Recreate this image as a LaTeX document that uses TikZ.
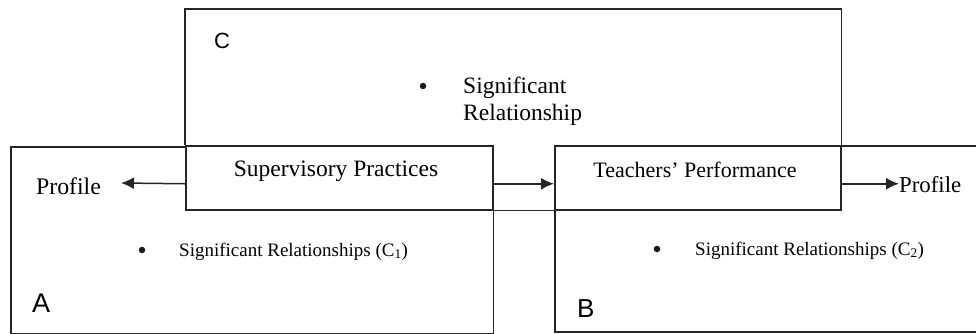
\documentclass[tikz,border=0pt]{standalone}
\usepackage{fontspec}
\setmainfont{Liberation Serif}
\newfontfamily\labelfont{Liberation Sans}
\usetikzlibrary{arrows.meta}
\begin{document}
\begin{tikzpicture}[x=1pt,y=-1pt,
  line/.style={line width=1.5pt, draw=black!85},
  frame/.style={line, rectangle, inner sep=0pt, anchor=north west},
  arr/.style={line, -{Latex[length=13pt,width=12pt]}},
  txt/.style={inner sep=0pt, anchor=base, font=\fontsize{23.5}{27}\selectfont},
  small/.style={inner sep=0pt, anchor=base west, font=\fontsize{19}{22}\selectfont},
  lab/.style={inner sep=0pt, anchor=base west},
  dot/.style={circle, fill=black!90, inner sep=0pt, minimum size=6.5pt}]
\useasboundingbox (0,0) rectangle (976,333);

% frames
\node[frame, draw=none, minimum width=655pt, minimum height=136pt] (C) at (185,9) {};
\node[frame, draw=none, minimum width=481pt, minimum height=185pt] (A) at (11,147) {};
\node[frame, minimum width=426pt, minimum height=186pt] (B) at (554,145) {};
\node[frame, minimum width=307pt, minimum height=64pt] (SP) at (185,145) {};
\node[frame, minimum width=286pt, minimum height=64pt] (TP) at (554,145) {};

\draw[line] (SP.north west) -- (C.north west) -- (C.north east) -- (C.south east);
\draw[line] (SP.west |- A.north) -- (A.north west) -- (A.south west) -- (A.south east) -- (A.north east);
\draw[line] (SP.south east) -- (TP.south west);

% texts
\node[txt] (spT) at (336,176) {Supervisory Practices};
\node[txt, font=\fontsize{22}{26}\selectfont] (tpT) at (695,177) {Teachers’ Performance};
\node[txt, font=\fontsize{23.8}{27}\selectfont] (profL) at (68.5,194) {Profile};
\node[txt, anchor=base west, font=\fontsize{22.8}{27}\selectfont] (profR) at (899,192) {Profile};
\node[txt, anchor=base west] (cT1) at (463,93) {Significant};
\node[txt, anchor=base west] (cT2) at (463,120) {Relationship};
\node[dot] (dC) at (423,86) {};
\node[dot] (d1) at (142,250) {};
\node[dot] (d2) at (657,249) {};
\node[small] (c1T) at (179,256) {Significant Relationships (C\textsubscript{1})};
\node[small] (c2T) at (695,255) {Significant Relationships (C\textsubscript{2})};
\node[lab, font=\labelfont\fontsize{22}{26}\selectfont] (labC) at (214,48) {C};
\node[lab, font=\labelfont\fontsize{27}{30}\selectfont] (labA) at (32,312) {A};
\node[lab, font=\labelfont\fontsize{26}{30}\selectfont] (labB) at (577,317) {B};

% arrows
\coordinate (tipL) at (121,183);
\draw[arr] ([yshift=-6pt]SP.west) -- (tipL);
\draw[arr] ([yshift=-6pt]SP.east) -- ([yshift=-6pt]TP.west);
\draw[arr] ([yshift=-6pt]TP.east) -- ([yshift=-6pt]TP.east -| profR.west);
\end{tikzpicture}
\end{document}
